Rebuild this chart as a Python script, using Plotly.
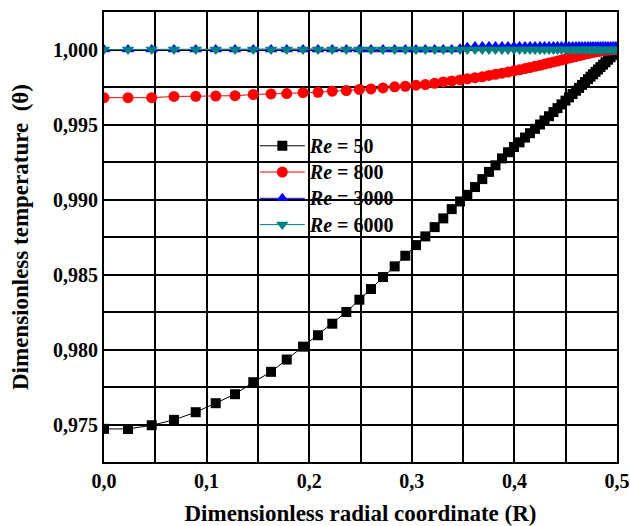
import plotly.graph_objects as go

# Radial grid (dimensionless radial coordinate R), denser toward the wall
r_grid = [
    0.000, 0.0234, 0.0465, 0.0682, 0.0894, 0.1089, 0.1277, 0.1455, 0.1628, 0.1781, 0.1940,
    0.2086, 0.2225, 0.2362, 0.2489, 0.2602, 0.2719, 0.2833, 0.2937, 0.3041, 0.3132, 0.3223,
    0.3307, 0.3389, 0.3470, 0.3541, 0.3616, 0.3687, 0.3752, 0.3816, 0.3879, 0.3938, 0.3996,
    0.4050, 0.4103, 0.4152, 0.4201, 0.4250, 0.4293, 0.4337, 0.4381, 0.4420, 0.4459, 0.4498,
    0.4532, 0.4567, 0.4600, 0.4630, 0.4659, 0.4688, 0.4717, 0.4742, 0.4766, 0.4791, 0.4815,
    0.4839, 0.4864, 0.4888, 0.4912, 0.4937, 0.4961, 0.4985, 0.5000,
]

# Dimensionless temperature profiles for each Reynolds number
theta_re50 = [
    0.97471, 0.97470, 0.97495, 0.97531, 0.97582, 0.97642, 0.97702, 0.97782, 0.97851, 0.97933, 0.98019,
    0.98095, 0.98172, 0.98250, 0.98332, 0.98403, 0.98483, 0.98554, 0.98625, 0.98696, 0.98754, 0.98816,
    0.98874, 0.98936, 0.98987, 0.99031, 0.99083, 0.99136, 0.99184, 0.99228, 0.99274, 0.99315, 0.99350,
    0.99381, 0.99413, 0.99442, 0.99471, 0.99500, 0.99527, 0.99555, 0.99583, 0.99609, 0.99634, 0.99659,
    0.99681, 0.99703, 0.99725, 0.99744, 0.99764, 0.99783, 0.99802, 0.99819, 0.99835, 0.99851, 0.99867,
    0.99883, 0.99899, 0.99915, 0.99932, 0.99948, 0.99964, 0.99980, 1.00000,
]
theta_re800 = [
    0.99679, 0.99679, 0.99679, 0.99687, 0.99688, 0.99690, 0.99692, 0.99700, 0.99704, 0.99706, 0.99712,
    0.99715, 0.99722, 0.99726, 0.99734, 0.99737, 0.99744, 0.99751, 0.99755, 0.99762, 0.99766, 0.99775,
    0.99784, 0.99790, 0.99797, 0.99805, 0.99812, 0.99818, 0.99827, 0.99835, 0.99842, 0.99850, 0.99858,
    0.99865, 0.99873, 0.99880, 0.99888, 0.99895, 0.99903, 0.99910, 0.99917, 0.99923, 0.99930, 0.99937,
    0.99943, 0.99949, 0.99954, 0.99959, 0.99964, 0.99969, 0.99973, 0.99977, 0.99981, 0.99984, 0.99987,
    0.99989, 0.99992, 0.99994, 0.99996, 0.99997, 0.99999, 0.99999, 1.00000,
]
theta_re3000 = [
    1.00000, 1.00000, 1.00000, 1.00000, 1.00000, 1.00000, 1.00000, 1.00000, 1.00000, 1.00000, 1.00000,
    1.00000, 1.00000, 1.00000, 1.00000, 1.00000, 1.00000, 1.00000, 1.00000, 1.00000, 1.00000, 1.00000,
    1.00000, 1.00000, 1.00005, 1.00015, 1.00020, 1.00020, 1.00020, 1.00020, 1.00020, 1.00020, 1.00020,
    1.00020, 1.00020, 1.00020, 1.00020, 1.00020, 1.00020, 1.00020, 1.00020, 1.00020, 1.00020, 1.00020,
    1.00020, 1.00020, 1.00020, 1.00020, 1.00020, 1.00020, 1.00020, 1.00020, 1.00020, 1.00020, 1.00020,
    1.00020, 1.00020, 1.00020, 1.00020, 1.00020, 1.00020, 1.00020, 1.00020,
]
theta_re6000 = [1.00000] * len(r_grid)

series_names = ["50", "800", "3000", "6000"]
series_values = [theta_re50, theta_re800, theta_re3000, theta_re6000]
series_colors = ["#000000", "#ff0000", "#0000ff", "#008080"]
series_symbols = ["square", "circle", "triangle-up", "triangle-down"]
series_sizes = [10, 11, 11, 11]

FONT = "Liberation Serif"

fig = go.Figure()
for name, vals, col, sym, sz in zip(series_names, series_values, series_colors,
                                    series_symbols, series_sizes):
    fig.add_trace(go.Scatter(
        x=r_grid, y=vals, mode="lines+markers",
        name=f'<span style="font-size:20px"><b><i>Re</i> = {name}</b></span>',
        line=dict(color=col, width=1),
        marker=dict(symbol=sym, size=sz, color=col, line=dict(width=0)),
    ))

grid_style = dict(showgrid=True, gridcolor="#000000", gridwidth=1.5)

fig.update_layout(
    template="none",
    width=630, height=526,
    margin=dict(l=104, r=13, t=12, b=64),
    paper_bgcolor="white", plot_bgcolor="white",
    separators=",.",
    font=dict(family=FONT, size=20, color="black"),
    showlegend=True,
    legend=dict(
        x=0.294, y=0.743, xanchor="left", yanchor="top",
        bgcolor="rgba(0,0,0,0)", borderwidth=0,
        font=dict(family=FONT, size=17.9, color="black"),
        tracegroupgap=0, itemwidth=45,
    ),
    xaxis=dict(
        range=[0, 0.5], dtick=0.1, tick0=0, tickformat=".1f",
        minor=dict(dtick=0.05, **grid_style),
        showline=True, linecolor="black", linewidth=2, mirror=True,
        ticks="", zeroline=False, automargin=False,
        tickfont=dict(family=FONT, size=20, color="black", weight="bold"),
        title=dict(text="<b>Dimensionless radial coordinate (R)</b>",
                   font=dict(family=FONT, size=23, color="black")),
        **grid_style,
    ),
    yaxis=dict(
        range=[0.9725, 1.0025], dtick=0.005, tick0=0, tickformat=".3f",
        minor=dict(dtick=0.0025, **grid_style),
        showline=True, linecolor="black", linewidth=2, mirror=True,
        ticks="", zeroline=False, automargin=False,
        tickfont=dict(family=FONT, size=20, color="black", weight="bold"),
        title=dict(text="<b>Dimensionless temperature  (θ)</b>", standoff=18,
                   font=dict(family=FONT, size=23, color="black")),
        **grid_style,
    ),
)

fig.write_html("out.html")
